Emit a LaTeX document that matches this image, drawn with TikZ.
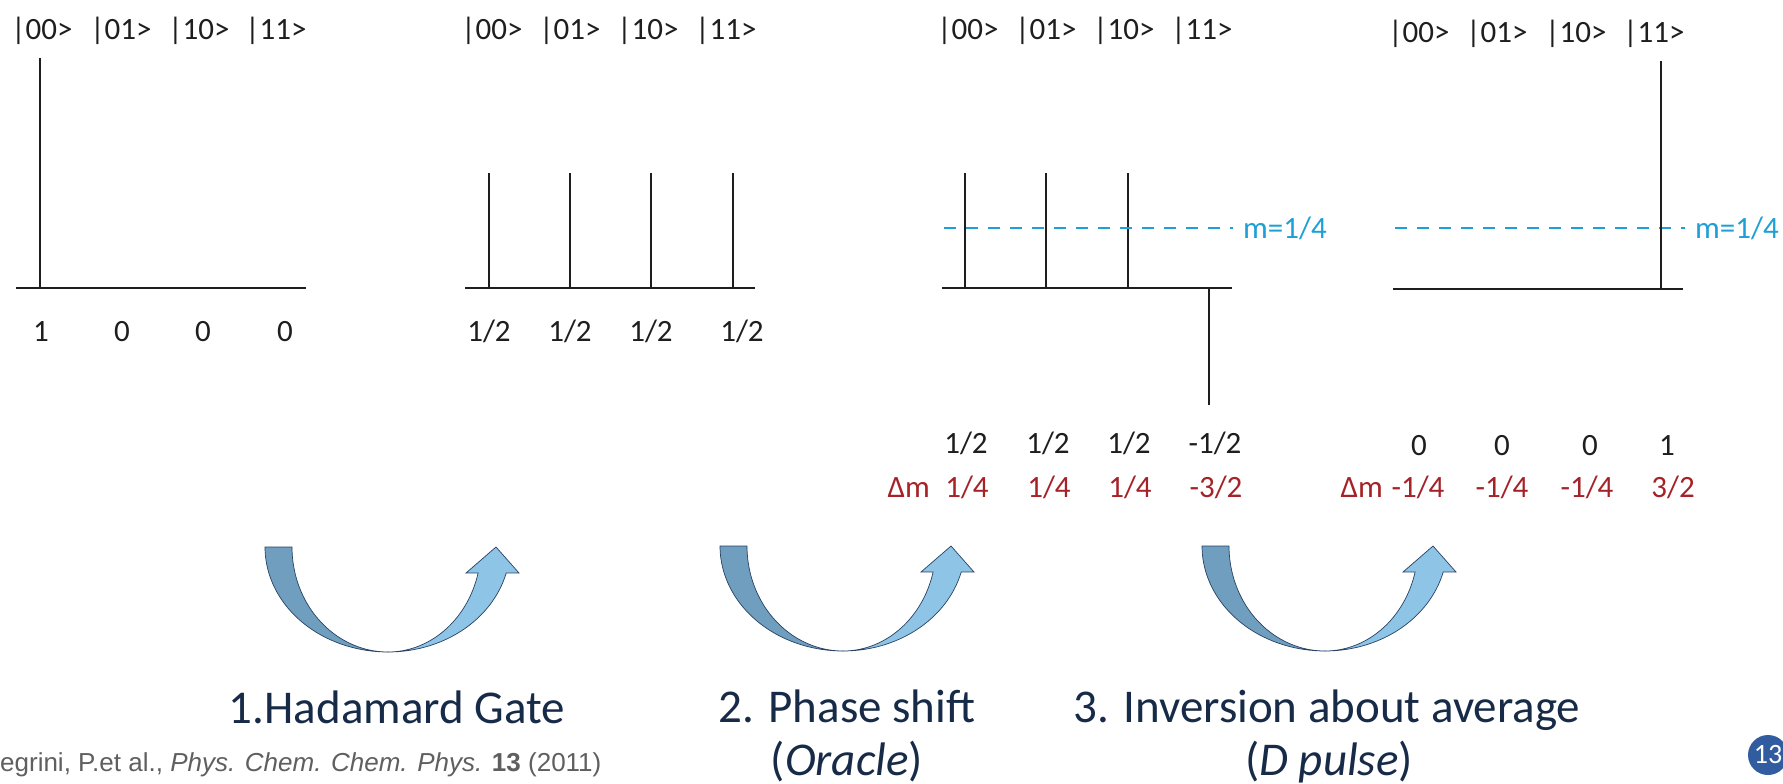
\documentclass[tikz,border=0pt]{standalone}
\usepackage{fontspec}
\setmainfont{Carlito}
\newfontfamily\citefont{Liberation Sans}
\definecolor{navy}{RGB}{23,43,72}
\definecolor{dmred}{RGB}{165,35,40}
\definecolor{mblue}{RGB}{30,160,215}
\definecolor{arrowdark}{RGB}{112,158,190}
\definecolor{arrowlight}{RGB}{142,196,230}
\definecolor{arrowedge}{RGB}{40,65,100}
\definecolor{citegray}{RGB}{95,95,95}
\definecolor{badge}{RGB}{50,92,160}
\definecolor{ink}{RGB}{30,30,30}
\tikzset{
  ket/.style={font=\fontsize{31}{36}\selectfont, text=ink, inner sep=0pt, anchor=base},
  dmval/.style={ket, text=dmred},
  mlab/.style={ket, text=mblue, anchor=base west},
  bar/.style={line width=2pt, draw=ink},
  avg/.style={line width=2pt, draw=mblue, dash pattern=on 12pt off 10pt},
  heading/.style={font=\fontsize{47}{56}\selectfont, text=navy, inner sep=0pt, anchor=base},
  turn/.pic={
    \filldraw[fill=arrowdark, draw=arrowedge, line width=0.7pt]
      (-123,0) -- plot[domain=180:90, samples=40] ({123*cos(\x)},{105*sin(\x)})
      -- plot[domain=90:180, samples=40] ({96*cos(\x)},{105*sin(\x)}) -- cycle;
    \filldraw[fill=arrowlight, draw=arrowedge, line width=0.7pt]
      (0,105) -- plot[domain=90:14.3, samples=40] ({122*cos(\x)},{105*sin(\x)})
      -- (131,26) -- (108,0) -- (78,26)
      -- plot[domain=14.3:90, samples=40] ({93*cos(\x)},{105*sin(\x)}) -- cycle;
  }
}
\begin{document}
\begin{tikzpicture}[x=1pt, y=-1pt]
\useasboundingbox[fill=white] (0,0) rectangle (1783,784);

% ---------- panel 1 ----------
\foreach \n/\x/\t in {a/42/{|00>}, b/121/{|01>}, c/199/{|10>}, d/276/{|11>}}
  \node[ket] (k1\n) at (\x,40) {\t};
\draw[bar] (16,288) -- (306,288);
\draw[bar] (40,58) -- (40,288);
\foreach \n/\x/\t in {a/41/1, b/122/0, c/203/0, d/285/0}
  \node[ket] (v1\n) at (\x,341) {\t};

% ---------- panel 2 ----------
\foreach \n/\x/\t in {a/492/{|00>}, b/570/{|01>}, c/648/{|10>}, d/726/{|11>}}
  \node[ket] (k2\n) at (\x,40) {\t};
\draw[bar] (465,288) -- (755,288);
\foreach \x in {489,570,651,733} \draw[bar] (\x,173) -- (\x,288);
\foreach \n/\x in {a/489, b/570, c/651, d/742}
  \node[ket] (v2\n) at (\x,341) {1/2};

% ---------- panel 3 ----------
\foreach \n/\x/\t in {a/968/{|00>}, b/1046/{|01>}, c/1124/{|10>}, d/1202/{|11>}}
  \node[ket] (k3\n) at (\x,40) {\t};
\draw[bar] (942,288) -- (1232,288);
\foreach \x in {965,1046,1128} \draw[bar] (\x,173) -- (\x,288);
\draw[bar] (1209,288) -- (1209,405);
\draw[avg] (944,228) -- (1233,228);
\node[mlab] (m3) at (1243,238) {m=1/4};
\foreach \n/\x/\t in {a/966/{1/2}, b/1048/{1/2}, c/1129/{1/2}, d/1215/{-1/2}}
  \node[ket] (v3\n) at (\x,453) {\t};
\node[dmval, anchor=base east] (dm3) at (930,497) {Δm};
\foreach \n/\x/\t in {a/967/{1/4}, b/1049/{1/4}, c/1130/{1/4}, d/1216/{-3/2}}
  \node[dmval] (r3\n) at (\x,497) {\t};

% ---------- panel 4 ----------
\foreach \n/\x/\t in {a/1419/{|00>}, b/1497/{|01>}, c/1576/{|10>}, d/1654/{|11>}}
  \node[ket] (k4\n) at (\x,43) {\t};
\draw[bar] (1393,289) -- (1683,289);
\draw[avg] (1395,228) -- (1685,228);
\draw[bar] (1661,61) -- (1661,289);
\node[mlab] (m4) at (1695,238) {m=1/4};
\foreach \n/\x/\t in {a/1419/0, b/1502/0, c/1590/0, d/1667/1}
  \node[ket] (v4\n) at (\x,455) {\t};
\node[dmval, anchor=base east] (dm4) at (1383,497) {Δm};
\foreach \n/\x/\t in {a/1418/{-1/4}, b/1502/{-1/4}, c/1587/{-1/4}, d/1673/{3/2}}
  \node[dmval] (r4\n) at (\x,497) {\t};

% ---------- curved arrows ----------
\pic at (388,547) {turn};
\pic at (843,546) {turn};
\pic at (1325,546) {turn};

% ---------- step captions ----------
\node[heading] (h1) at (397,723) {1.Hadamard Gate};
\node[heading] (h2) at (847,722) {2. Phase shift};
\node[heading] (h2b) at (847,775) {(\textit{Oracle})};
\node[heading] (h3) at (1327,722) {3. Inversion about average};
\node[heading] (h3b) at (1329,775) {(\textit{D pulse})};

% ---------- citation ----------
\node[font=\citefont\fontsize{26}{30}\selectfont, text=citegray, inner sep=0pt, anchor=base west] (cite) at (0,771)
  {egrini, P.et al., \textit{Phys. Chem. Chem. Phys.} \textbf{13} (2011)};

% ---------- page badge ----------
\fill[badge] (1768,755) circle (20);
\node[font=\fontsize{28}{32}\selectfont, text=white, inner sep=0pt] (pg) at (1768,755) {13};
\end{tikzpicture}
\end{document}
